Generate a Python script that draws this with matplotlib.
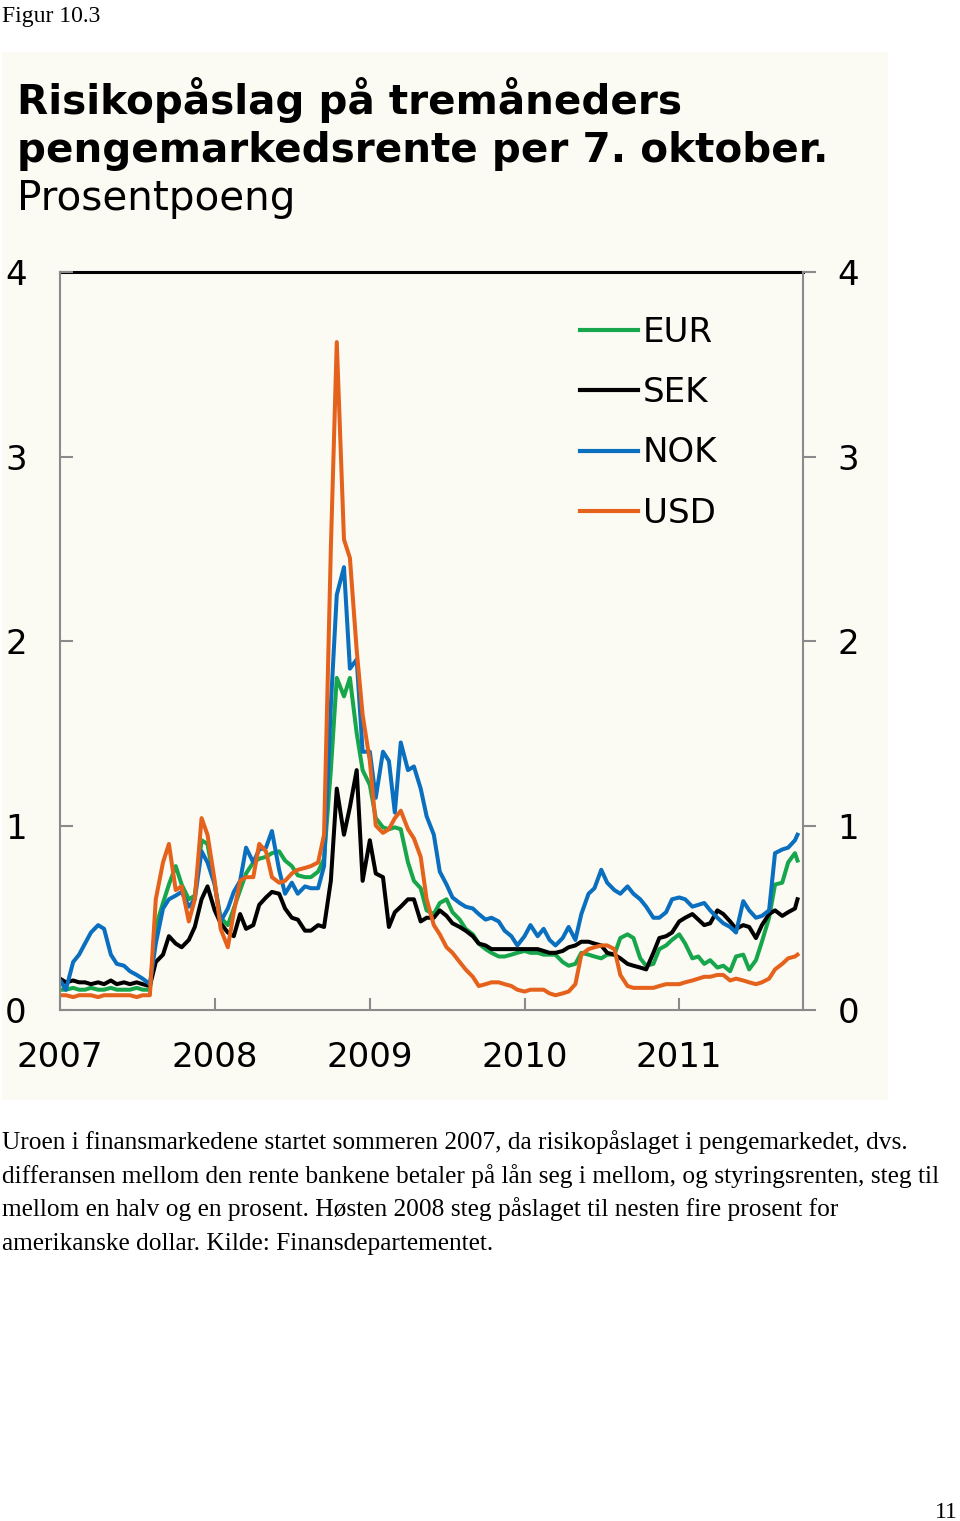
import pandas as pd
import matplotlib.pyplot as plt
import matplotlib.patches as mpatches

plt.rcParams['font.family'] = ['DejaVu Sans']

# Halvmånedlige punkter (prosentpoeng)
datoer = list(pd.date_range('2007-01-01', '2011-10-01', freq='SMS')) + [pd.Timestamp('2011-10-07')]

eur = [0.11, 0.11, 0.12, 0.11, 0.11, 0.12, 0.11, 0.11, 0.12, 0.11,
       0.11, 0.11, 0.12, 0.11, 0.11, 0.45, 0.58, 0.68, 0.78, 0.68,
       0.60, 0.62, 0.92, 0.90, 0.68, 0.50, 0.46, 0.55, 0.65, 0.74,
       0.80, 0.82, 0.83, 0.85, 0.86, 0.81, 0.78, 0.73, 0.72, 0.72,
       0.75, 0.82, 1.30, 1.80, 1.70, 1.80, 1.50, 1.30, 1.22, 1.04,
       0.99, 0.98, 0.99, 0.98, 0.80, 0.70, 0.66, 0.54, 0.52, 0.58,
       0.60, 0.53, 0.49, 0.44, 0.41, 0.36, 0.33, 0.31, 0.29, 0.29,
       0.30, 0.31, 0.32, 0.31, 0.31, 0.30, 0.30, 0.30, 0.26, 0.24,
       0.25, 0.31, 0.30, 0.29, 0.28, 0.30, 0.30, 0.39, 0.41, 0.39,
       0.28, 0.24, 0.25, 0.33, 0.35, 0.38, 0.41, 0.36, 0.28, 0.29,
       0.25, 0.27, 0.23, 0.24, 0.21, 0.29, 0.30, 0.22, 0.27, 0.37,
       0.50, 0.68, 0.69, 0.80, 0.85, 0.81]

sek = [0.17, 0.15, 0.16, 0.15, 0.15, 0.14, 0.15, 0.14, 0.16, 0.14,
       0.15, 0.14, 0.15, 0.14, 0.13, 0.26, 0.30, 0.40, 0.36, 0.34,
       0.38, 0.45, 0.60, 0.67, 0.54, 0.47, 0.42, 0.40, 0.52, 0.44,
       0.46, 0.57, 0.61, 0.64, 0.63, 0.55, 0.50, 0.49, 0.43, 0.43,
       0.46, 0.45, 0.70, 1.20, 0.95, 1.10, 1.30, 0.70, 0.92, 0.74,
       0.72, 0.45, 0.53, 0.56, 0.60, 0.60, 0.48, 0.50, 0.50, 0.54,
       0.51, 0.47, 0.45, 0.43, 0.40, 0.36, 0.35, 0.33, 0.33, 0.33,
       0.33, 0.33, 0.33, 0.33, 0.33, 0.32, 0.31, 0.31, 0.32, 0.34,
       0.35, 0.37, 0.37, 0.36, 0.35, 0.31, 0.30, 0.28, 0.25, 0.24,
       0.23, 0.22, 0.31, 0.39, 0.40, 0.42, 0.48, 0.50, 0.52, 0.49,
       0.46, 0.47, 0.54, 0.52, 0.48, 0.44, 0.46, 0.45, 0.39, 0.46,
       0.52, 0.54, 0.51, 0.53, 0.55, 0.60]

nok = [0.16, 0.11, 0.26, 0.30, 0.36, 0.42, 0.46, 0.44, 0.30, 0.25,
       0.24, 0.21, 0.19, 0.17, 0.14, 0.36, 0.55, 0.60, 0.62, 0.64,
       0.56, 0.60, 0.86, 0.80, 0.68, 0.48, 0.55, 0.64, 0.70, 0.88,
       0.80, 0.87, 0.88, 0.97, 0.76, 0.63, 0.69, 0.63, 0.67, 0.66,
       0.66, 0.78, 1.65, 2.25, 2.40, 1.85, 1.90, 1.40, 1.40, 1.15,
       1.40, 1.35, 1.07, 1.45, 1.30, 1.32, 1.20, 1.05, 0.95, 0.75,
       0.68, 0.61, 0.58, 0.56, 0.55, 0.52, 0.49, 0.50, 0.48, 0.43,
       0.40, 0.35, 0.40, 0.46, 0.40, 0.44, 0.38, 0.35, 0.39, 0.45,
       0.38, 0.52, 0.63, 0.66, 0.76, 0.69, 0.65, 0.63, 0.67, 0.63,
       0.60, 0.56, 0.50, 0.50, 0.53, 0.60, 0.61, 0.60, 0.56, 0.57,
       0.58, 0.54, 0.50, 0.47, 0.45, 0.42, 0.59, 0.54, 0.50, 0.51,
       0.54, 0.85, 0.87, 0.88, 0.92, 0.95]

usd = [0.08, 0.08, 0.07, 0.08, 0.08, 0.08, 0.07, 0.08, 0.08, 0.08,
       0.08, 0.08, 0.07, 0.08, 0.08, 0.60, 0.80, 0.90, 0.65, 0.67,
       0.48, 0.60, 1.04, 0.95, 0.70, 0.44, 0.34, 0.53, 0.70, 0.72,
       0.72, 0.90, 0.86, 0.72, 0.69, 0.70, 0.74, 0.76, 0.77, 0.78,
       0.80, 0.95, 2.50, 3.62, 2.55, 2.45, 1.95, 1.60, 1.35, 1.00,
       0.96, 0.98, 1.04, 1.08, 0.98, 0.93, 0.83, 0.60, 0.46, 0.41,
       0.34, 0.31, 0.26, 0.22, 0.18, 0.13, 0.14, 0.15, 0.15, 0.14,
       0.13, 0.11, 0.10, 0.11, 0.11, 0.11, 0.09, 0.08, 0.09, 0.10,
       0.14, 0.30, 0.33, 0.34, 0.35, 0.35, 0.33, 0.19, 0.13, 0.12,
       0.12, 0.12, 0.12, 0.13, 0.14, 0.14, 0.14, 0.15, 0.16, 0.17,
       0.18, 0.18, 0.19, 0.19, 0.16, 0.17, 0.16, 0.15, 0.14, 0.15,
       0.17, 0.22, 0.25, 0.28, 0.29, 0.30]

serier = ['EUR', 'SEK', 'NOK', 'USD']
farger = ['#17a64b', '#000000', '#0b6fbf', '#e5621c']
aar = [2007, 2008, 2009, 2010, 2011]

tittel = ['Risikopåslag på tremåneders', 'pengemarkedsrente per 7. oktober.']
undertittel = 'Prosentpoeng'
tekst = ['Uroen i finansmarkedene startet sommeren 2007, da risikopåslaget i pengemarkedet, dvs.',
         'differansen mellom den rente bankene betaler på lån seg i mellom, og styringsrenten, steg til',
         'mellom en halv og en prosent. Høsten 2008 steg påslaget til nesten fire prosent for',
         'amerikanske dollar. Kilde: Finansdepartementet.']

bakgrunn = '#fbfbf3'
graa = '#8a8a8a'
W, H = 960, 1521

fig = plt.figure(figsize=(W / 100, H / 100), dpi=100)
fig.patches.append(mpatches.Rectangle((2 / W, 1 - 1100 / H), 886 / W, 1048 / H,
                                      transform=fig.transFigure, facecolor=bakgrunn,
                                      edgecolor='none', zorder=-1))


def tilpass(t, bredde_px):
    # skaler skriftstørrelsen så teksten blir like bred som i originalen
    r = fig.canvas.get_renderer()
    b = t.get_window_extent(renderer=r).width
    t.set_fontsize(t.get_fontsize() * bredde_px / b)


# tittel
t1 = fig.text(17 / W, 1 - 114 / H, tittel[0], fontsize=29, fontweight='bold', va='baseline')
t2 = fig.text(17 / W, 1 - 162 / H, tittel[1], fontsize=29, fontweight='bold', va='baseline')
tilpass(t2, 811)
t1.set_fontsize(t2.get_fontsize())
t3 = fig.text(17 / W, 1 - 210 / H, undertittel, fontsize=29, va='baseline')
tilpass(t3, 278)

# selve diagrammet
ax = fig.add_axes([60 / W, 1 - 1010 / H, 743 / W, 738 / H])
ax.set_facecolor(bakgrunn)
for navn, verdier, farge in zip(serier, [eur, sek, nok, usd], farger):
    ax.plot(datoer, verdier, color=farge, lw=2.9, label=navn, solid_joinstyle='round')

ax.set_ylim(0, 4)
ax.set_xlim(pd.Timestamp('2007-01-01'), pd.Timestamp('2011-10-20'))
ax.set_xticks([pd.Timestamp(f'{a}-01-01') for a in aar])
ax.set_xticklabels([str(a) for a in aar])
ax.set_yticks(range(5))

for s in ['left', 'right', 'bottom']:
    ax.spines[s].set_color(graa)
    ax.spines[s].set_linewidth(1.5)
ax.spines['top'].set_color('black')
ax.spines['top'].set_linewidth(2.2)
ax.spines['top'].set_zorder(1)

ax.tick_params(axis='both', direction='in', length=9, width=1.5, color=graa, labelsize=24.5)
ax.tick_params(axis='x', pad=22)
ax.tick_params(axis='y', pad=24)

ax2 = ax.twinx()
ax2.set_ylim(0, 4)
ax2.set_yticks(range(5))
ax2.tick_params(axis='y', direction='out', length=9, width=1.5, color=graa, labelsize=24.5, pad=16)
for s in ax2.spines.values():
    s.set_visible(False)

leg = ax.legend(loc='upper left', bbox_to_anchor=(0.70, 0.9404), frameon=False, fontsize=24.5,
                handlelength=1.7, handletextpad=0.15, labelspacing=0.8, borderpad=0, borderaxespad=0)
for l in leg.get_lines():
    l.set_linewidth(3)

# tekst rundt figuren
serif = 'Liberation Serif'
fig.text(2 / W, 1 - 22 / H, 'Figur 10.3', family=serif, fontsize=17, va='baseline')
linjer = []
for k, linje in enumerate(tekst):
    linjer.append(fig.text(2 / W, 1 - (1149 + 33.7 * k) / H, linje, family=serif, fontsize=17, va='baseline'))
tilpass(linjer[1], 938)
for t in linjer:
    t.set_fontsize(linjer[1].get_fontsize())
fig.text(958 / W, 1 - 1518 / H, '11', family=serif, fontsize=17, ha='right', va='baseline')

fig.savefig('out.png', dpi=100, facecolor='white')
